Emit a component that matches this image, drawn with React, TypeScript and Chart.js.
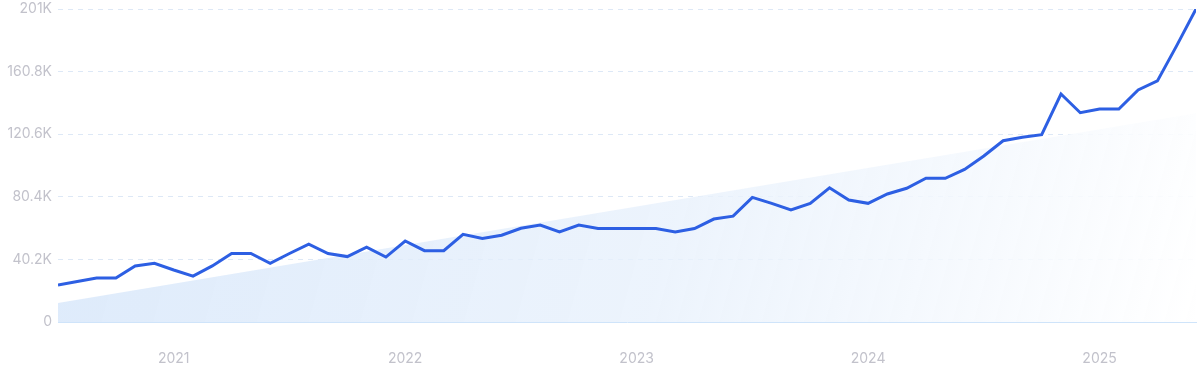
import React, { useEffect, useRef } from "react";
import { Chart, registerables } from "chart.js";

Chart.register(...registerables);

// Monthly values, Jul 2020 .. Jun 2025
const months: string[] = [
  "2020-07","2020-08","2020-09","2020-10","2020-11","2020-12",
  "2021-01","2021-02","2021-03","2021-04","2021-05","2021-06","2021-07","2021-08","2021-09","2021-10","2021-11","2021-12",
  "2022-01","2022-02","2022-03","2022-04","2022-05","2022-06","2022-07","2022-08","2022-09","2022-10","2022-11","2022-12",
  "2023-01","2023-02","2023-03","2023-04","2023-05","2023-06","2023-07","2023-08","2023-09","2023-10","2023-11","2023-12",
  "2024-01","2024-02","2024-03","2024-04","2024-05","2024-06","2024-07","2024-08","2024-09","2024-10","2024-11","2024-12",
  "2025-01","2025-02","2025-03","2025-04","2025-05","2025-06",
];

const values: number[] = [
  23800, 26000, 28200, 28200, 36000, 37700,
  33400, 29500, 36000, 44000, 44000, 37700, 44000, 50000, 44000, 42000, 48000, 41700,
  52000, 45800, 45800, 56300, 53700, 55700, 60200, 62300, 57800, 62300, 60000, 60000,
  60000, 60000, 57800, 60000, 66100, 68000, 80000, 76200, 71900, 76200, 86200, 78300,
  76200, 82200, 85900, 92300, 92300, 98000, 106600, 116400, 118600, 120300, 146400, 134400,
  136800, 136800, 149000, 154800, 177500, 201000,
];

// Trend line endpoints (first and last month)
const trendStart = 12200;
const trendEnd = 134000;

const yearTickIndex: number[] = [6, 18, 30, 42, 54];
const yearTickLabels: string[] = ["2021", "2022", "2023", "2024", "2025"];

const yTickLabels: Record<number, string> = {
  0: "0",
  40200: "40.2K",
  80400: "80.4K",
  120600: "120.6K",
  160800: "160.8K",
  201000: "201K",
};

export default function App() {
  const ref = useRef<HTMLCanvasElement | null>(null);

  useEffect(() => {
    document.body.style.margin = "0";
    const canvas = ref.current;
    if (!canvas) return;

    const linePoints = values.map((v, i) => ({ x: i, y: v }));
    const trendPoints = [
      { x: 0, y: trendStart },
      { x: months.length - 1, y: trendEnd },
    ];

    const chart = new Chart(canvas, {
      type: "line",
      data: {
        datasets: [
          {
            label: "Searches",
            data: linePoints,
            borderColor: "#2d5fe3",
            borderWidth: 3,
            pointRadius: 0,
            tension: 0,
            fill: false,
            order: 1,
          },
          {
            label: "Trend",
            data: trendPoints,
            borderWidth: 0,
            borderColor: "rgba(0,0,0,0)",
            pointRadius: 0,
            fill: "origin",
            order: 2,
            backgroundColor: (ctx: any) => {
              const area = ctx.chart.chartArea;
              if (!area) return "rgba(220,234,250,0.8)";
              const g = ctx.chart.ctx.createLinearGradient(area.left, area.top, area.right, area.bottom);
              g.addColorStop(0, "rgba(214,230,250,0.85)");
              g.addColorStop(0.55, "rgba(232,241,252,0.8)");
              g.addColorStop(1, "rgba(255,255,255,0.9)");
              return g;
            },
          },
        ],
      },
      options: {
        animation: false,
        responsive: false,
        maintainAspectRatio: false,
        layout: { padding: { top: 9, right: 4, left: 0, bottom: 0 } },
        plugins: {
          legend: { display: false },
          tooltip: { enabled: false },
        },
        scales: {
          x: {
            type: "linear",
            min: 0,
            max: months.length - 1,
            grid: { display: false },
            border: { display: true, color: "#cfe4fa", width: 1 },
            afterBuildTicks: (axis: any) => {
              axis.ticks = yearTickIndex.map((v) => ({ value: v }));
            },
            afterFit: (axis: any) => {
              axis.height = 49;
              axis.paddingLeft = 0;
              axis.paddingRight = 0;
            },
            ticks: {
              color: "#c2c2cb",
              font: { family: "Inter", size: 14 },
              padding: 20,
              maxRotation: 0,
              autoSkip: false,
              callback: (v: any) => {
                const k = yearTickIndex.indexOf(Number(v));
                return k >= 0 ? yearTickLabels[k] : "";
              },
            },
          },
          y: {
            min: 0,
            max: 201000,
            grid: {
              color: "#dde8f6",
              lineWidth: 1,
              drawTicks: false,
            },
            border: { display: false, dash: [5, 5] },
            afterFit: (axis: any) => {
              axis.width = 58;
              axis.paddingTop = 0;
              axis.paddingBottom = 0;
            },
            afterBuildTicks: (axis: any) => {
              axis.ticks = Object.keys(yTickLabels).map((k) => ({ value: Number(k) }));
            },
            ticks: {
              color: "#c2c2cb",
              font: { family: "Inter", size: 14 },
              padding: 6,
              callback: (v: any) => yTickLabels[Number(v)] ?? "",
            },
          },
        },
      },
    });

    return () => chart.destroy();
  }, []);

  return (
    <div style={{ width: 1200, height: 371 }}>
      <canvas ref={ref} width={1200} height={371} style={{ display: "block" }} />
    </div>
  );
}
